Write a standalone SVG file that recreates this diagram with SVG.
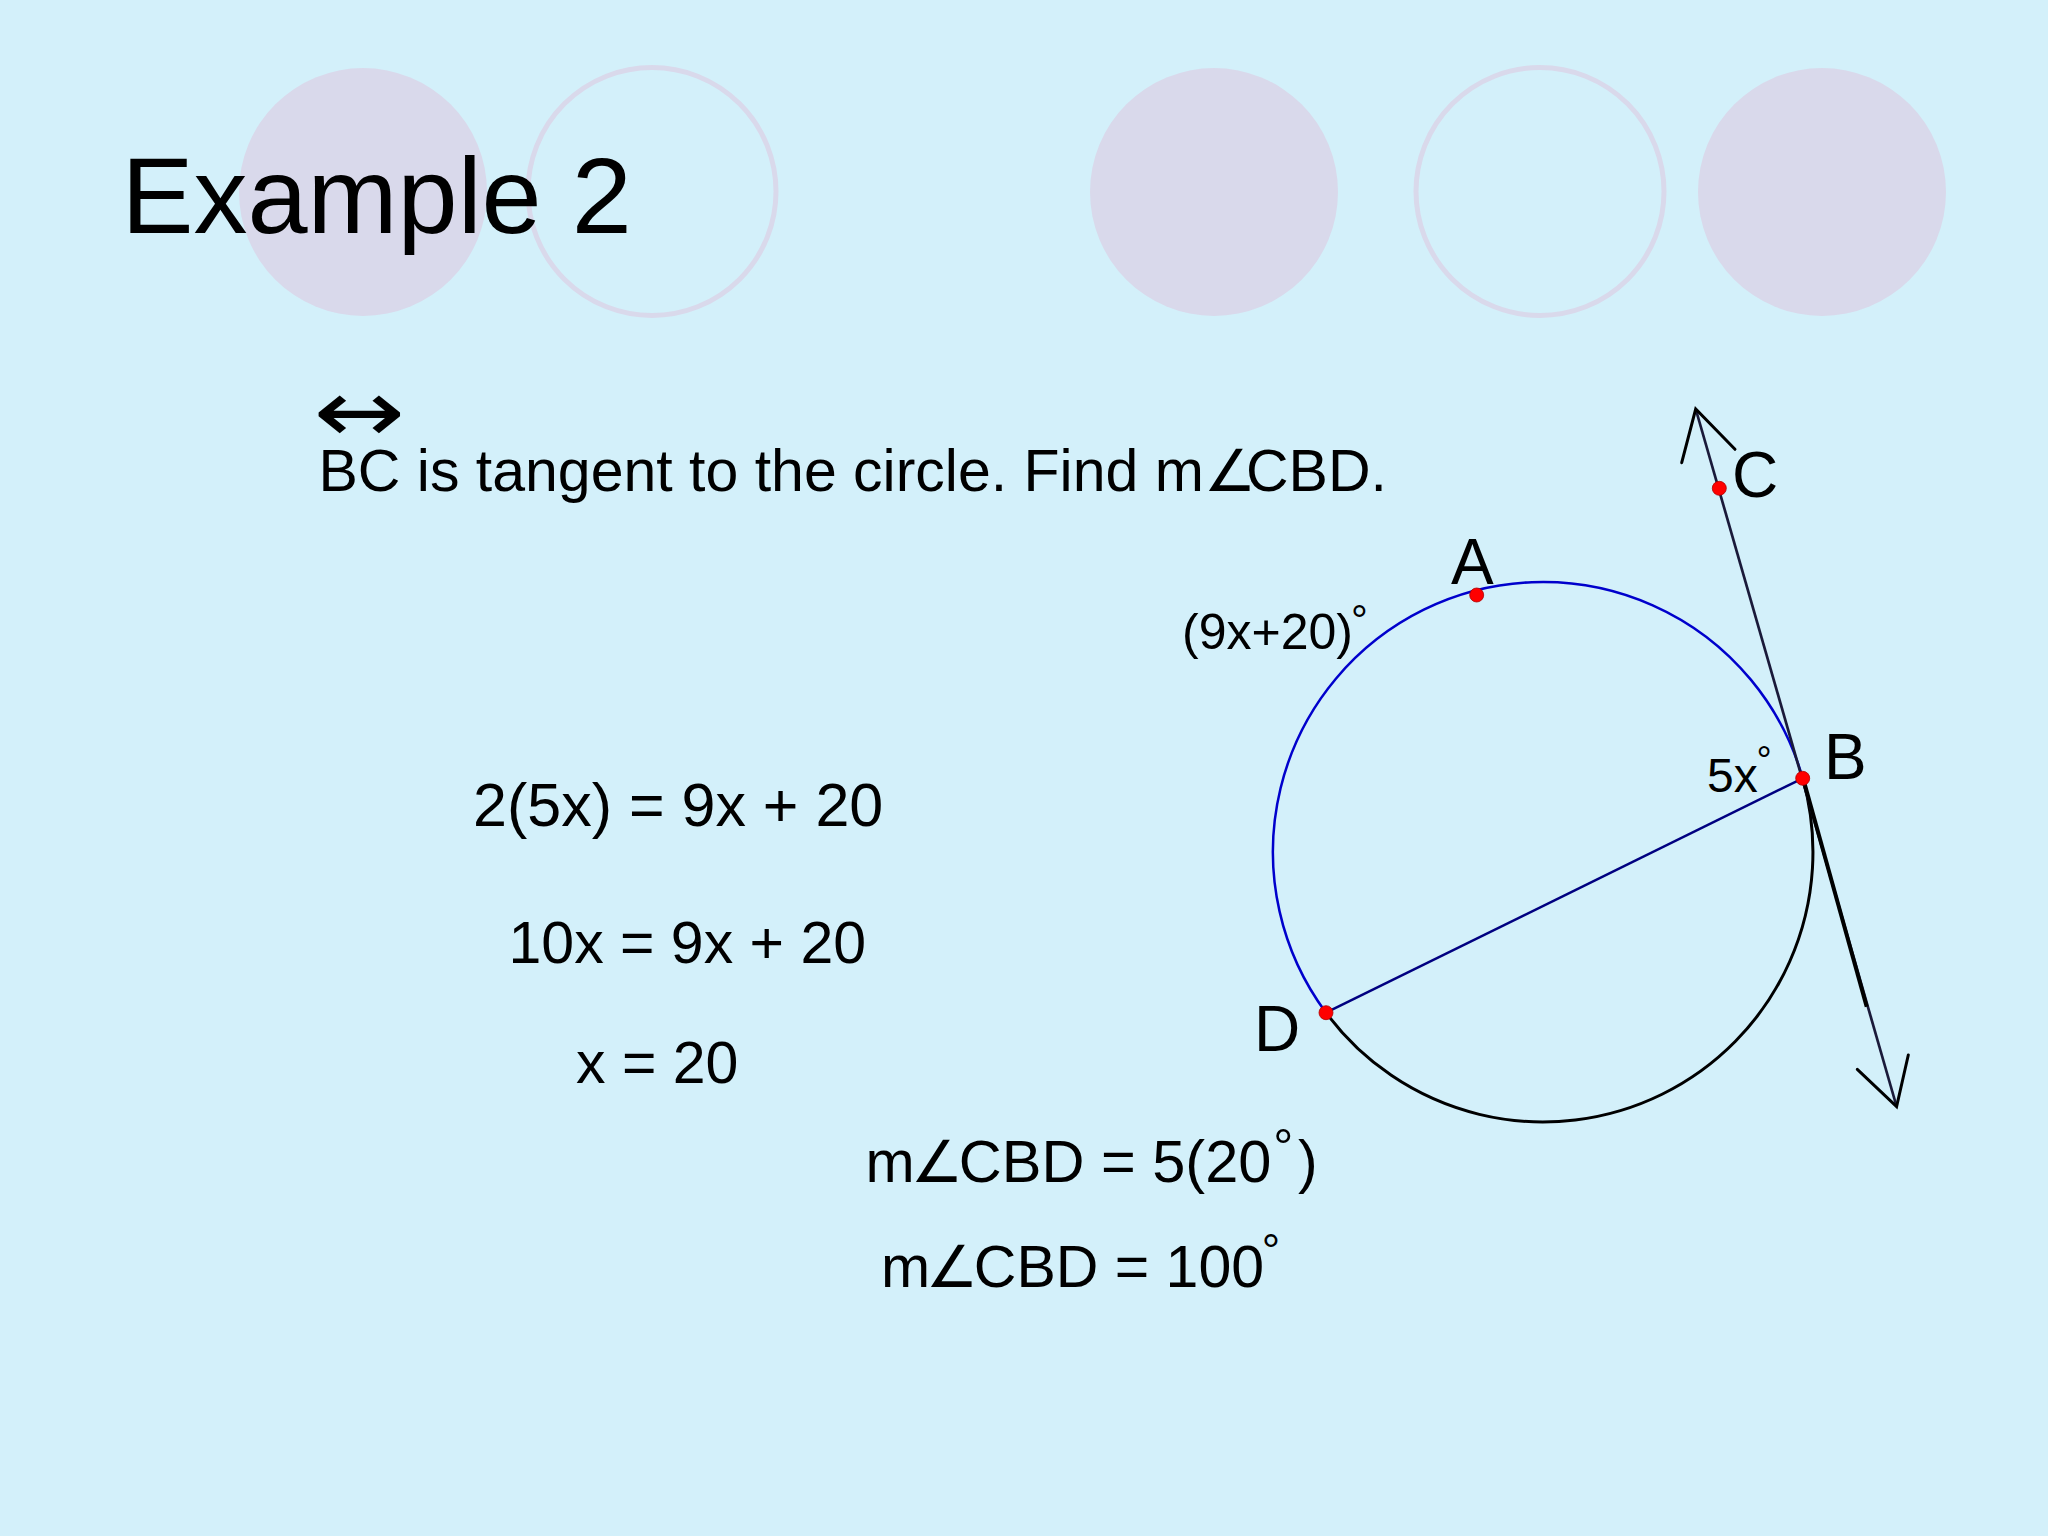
<svg xmlns="http://www.w3.org/2000/svg" width="2048" height="1536" viewBox="0 0 2048 1536">
<defs>
<style>
.t{font-family:"Liberation Sans",Arial,sans-serif;fill:#000}
.ang{font-family:"DejaVu Sans",sans-serif;font-weight:200;fill:#000}
.deco{fill:#D9D9EB}
.ring{fill:none;stroke:#D9D9EB;stroke-width:5}
.dot{fill:#FF0000;stroke:#B00000;stroke-width:0.8}
.ah{fill:none;stroke:#000;stroke-width:3;stroke-linecap:round}
</style>
</defs>
<rect width="2048" height="1536" fill="#D3F0FA"/>
<g id="decor">
<circle class="deco" cx="363" cy="192" r="124"/>
<circle class="ring" cx="652" cy="191.5" r="124"/>
<circle class="deco" cx="1214" cy="192" r="124"/>
<circle class="ring" cx="1540" cy="191.5" r="124"/>
<circle class="deco" cx="1822" cy="192" r="124"/>
</g>
<g id="title"><text class="t" x="121.5" y="232.7" font-size="108">Example 2</text></g>
<g id="problem">
<text transform="translate(313.5,441.5) scale(1,0.8)" x="0" y="0" font-family="DejaVu Sans,sans-serif" font-size="110">↔</text>
<text class="t" x="318.5" y="491" font-size="59">BC is tangent to the circle. Find m</text>
<text class="ang" x="1204" y="491" font-size="58">∠</text>
<text class="t" x="1246" y="491" font-size="59">CBD.</text>
</g>
<g id="connectors">
<path d="M1326,1012.7 A270,270 0 1 1 1802.7,778.3" fill="none" stroke="#0000CC" stroke-width="2.5"/>
<path d="M1802.7,778.3 A270,270 0 0 1 1326,1012.7" fill="none" stroke="#000" stroke-width="3"/>
<line x1="1802.7" y1="778.3" x2="1326" y2="1012.7" stroke="#000080" stroke-width="2.5"/>
<line x1="1695.7" y1="409" x2="1896.6" y2="1106.5" stroke="#1A1A3A" stroke-width="2.7"/>
<line x1="1803" y1="778" x2="1866.7" y2="1006.7" stroke="#000" stroke-width="4"/>
<polyline class="ah" points="1681.7,462.7 1695.7,409 1735,449.3"/>
<polyline class="ah" points="1857.3,1069.3 1896.6,1106.5 1908.3,1055"/>
</g>
<g id="point-A"><circle class="dot" cx="1476.7" cy="595" r="7"/><text class="t" x="1451" y="584" font-size="64">A</text></g>
<g id="point-B"><circle class="dot" cx="1802.7" cy="778.3" r="7"/><text class="t" x="1824" y="779" font-size="64">B</text></g>
<g id="point-C"><circle class="dot" cx="1719.3" cy="488.3" r="7"/><text class="t" x="1732" y="497" font-size="64">C</text></g>
<g id="point-D"><circle class="dot" cx="1326" cy="1012.7" r="7"/><text class="t" x="1254" y="1051" font-size="64">D</text></g>
<g id="label-arc">
<text class="t" x="1182" y="649" font-size="50">(9x+20)</text>
<text class="t" x="1351" y="634.6" font-size="42">°</text>
</g>
<g id="label-angle">
<text class="t" x="1707" y="791.7" font-size="48">5x</text>
<text class="t" x="1756.4" y="773" font-size="38">°</text>
</g>
<g id="work">
<text class="t" x="473" y="826" font-size="61">2(5x) = 9x + 20</text>
<text class="t" x="508.5" y="963" font-size="59">10x = 9x + 20</text>
<text class="t" x="576" y="1083" font-size="59">x = 20</text>
<text class="t" x="865.5" y="1181.7" font-size="59">m</text>
<text class="ang" x="911" y="1181.7" font-size="58">∠</text>
<text class="t" x="958.8" y="1181.7" font-size="59.5">CBD = 5(20</text>
<text class="t" x="1273.3" y="1164" font-size="50">°</text>
<text class="t" x="1298" y="1181.7" font-size="59">)</text>
<text class="t" x="881" y="1286.7" font-size="59">m</text>
<text class="ang" x="926" y="1286.7" font-size="58">∠</text>
<text class="t" x="973.8" y="1286.7" font-size="59">CBD = 100</text>
<text class="t" x="1261.8" y="1267" font-size="46">°</text>
</g>
</svg>
